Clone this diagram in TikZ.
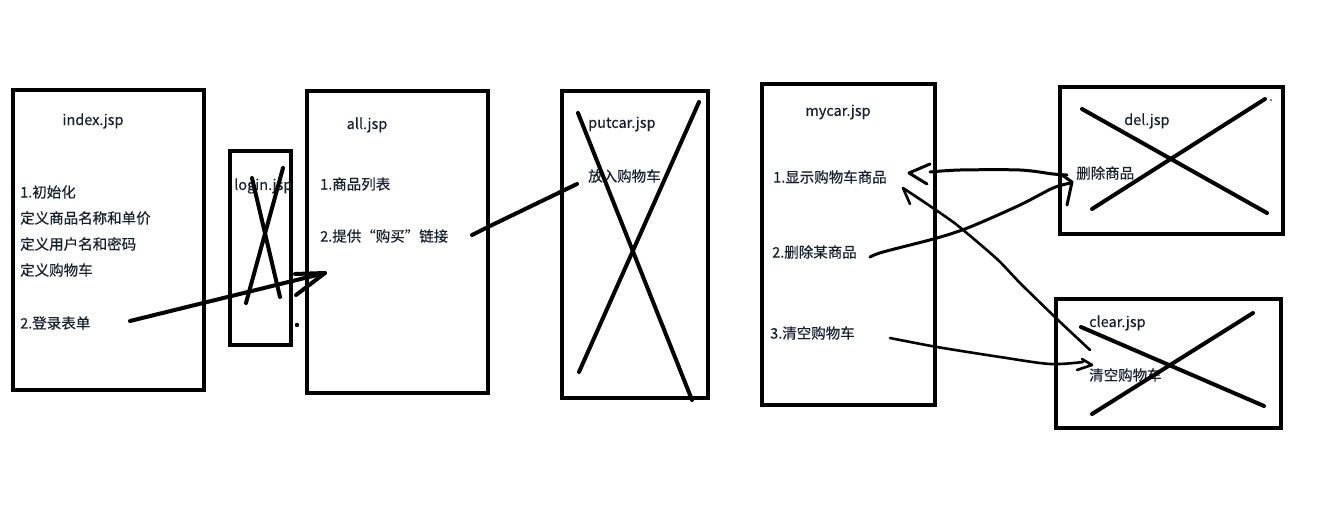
\documentclass[tikz,border=0pt]{standalone}
\usepackage{fontspec}
\setmainfont{Noto Sans CJK SC}[FakeBold=0.35]
\begin{document}
\begin{tikzpicture}[x=1pt,y=-1pt,
  box/.style={draw=black,line width=4pt,inner sep=0pt},
  cross/.style={line width=4pt,line cap=round},
  pen/.style={line width=3pt,line cap=round,line join=round},
  thin/.style={line width=2.6pt,line cap=round,line join=round},
  lbl/.style={anchor=west,inner sep=0pt,text=txt,font=\fontsize{14.5}{16}\selectfont},
  ttl/.style={anchor=center,inner sep=0pt,text=txt,font=\fontsize{14.5}{16}\selectfont}]
\definecolor{txt}{HTML}{15202E}
\useasboundingbox[fill=white] (0,0) rectangle (1339,527);
% boxes
\node[box,minimum width=191pt,minimum height=300pt] (index) at (108.5,240) {};
\node[box,minimum width=61pt,minimum height=194pt] (login) at (260.5,248) {};
\node[box,minimum width=181pt,minimum height=302pt] (all) at (397.5,242) {};
\node[box,minimum width=146pt,minimum height=307pt] (putcar) at (635,244.5) {};
\node[box,minimum width=173pt,minimum height=321pt] (mycar) at (848.5,244.5) {};
\node[box,minimum width=223pt,minimum height=147pt] (del) at (1171.5,160.5) {};
\node[box,minimum width=225pt,minimum height=129pt] (clear) at (1168.5,363.5) {};
% texts
\node[ttl] (tIndex) at (93,121) {index.jsp};
\node[lbl] (i1) at (20,192) {1.初始化};
\node[lbl] (i2) at (20,218) {定义商品名称和单价};
\node[lbl] (i3) at (20,244) {定义用户名和密码};
\node[lbl] (i4) at (20,270) {定义购物车};
\node[lbl] (i5) at (20,323) {2.登录表单};
\node[lbl] (tLogin) at (234,186) {login.jsp};
\node[ttl] (tAll) at (367,125) {all.jsp};
\node[lbl] (a1) at (320,184) {1.商品列表};
\node[lbl] (a2) at (320,236) {2.提供“购买”链接};
\node[lbl] (tPut) at (588,124) {putcar.jsp};
\node[lbl] (p1) at (588,176) {放入购物车};
\node[ttl] (tMy) at (838,112) {mycar.jsp};
\node[lbl] (m1) at (773,177) {1.显示购物车商品};
\node[lbl] (m2) at (772,252) {2.删除某商品};
\node[lbl] (m3) at (770,333) {3.清空购物车};
\node[lbl] (tDel) at (1124,121) {del.jsp};
\node[lbl] (d1) at (1076,173) {删除商品};
\node[lbl] (tClr) at (1089,323) {clear.jsp};
\node[lbl] (c1) at (1089,375) {清空购物车};
% crosses
\draw[cross] (252,178) -- (280,297);
\draw[cross] (283,168) -- (246,303);
\draw[cross] (578,113) -- (692,400);
\draw[cross] (699,102) -- (579,372);
\draw[cross] (1082,109) -- (1267,213);
\draw[cross] (1265,99) -- (1092,209);
\fill (1271,100) circle (0.8pt);
\draw[cross] (1081,327) -- (1264,406);
\draw[cross] (1253,313) -- (1092,414);
% index -> all
\coordinate (s1) at (130,321);
\coordinate (e1) at (325,273);
\draw[line width=4pt,line cap=round,line join=round] (s1) -- (e1);
\draw[line width=4pt,line cap=round,line join=round] (295,274) -- (e1) -- (296,295);
\fill (297,325) circle (2.2pt);
% all -> putcar
\coordinate (s2) at (472,235);
\coordinate (e2) at (577,184);
\draw[line width=4pt,line cap=round,line join=round] (s2) -- (490,226) -- (e2);
% del -> mycar 1
\coordinate (s3) at (1067,175);
\coordinate (e3) at (930,172);
\draw[pen] plot[smooth,tension=0.5] coordinates {(s3) (1053,174) (1020,170) (960,170) (e3)};
\draw[pen] (930,164) -- (909,173) -- (927,184);
% mycar 2 -> del
\coordinate (s4) at (870,257);
\coordinate (e4) at (1071,183);
\draw[pen] plot[smooth,tension=0.5] coordinates {(s4) (883,252) (937,238) (970,227) (1020,205) (1053,188) (e4)};
\draw[pen] (1062,175) -- (1072,182) -- (1067,205);
% clear -> mycar 1
\coordinate (s5) at (1090,350);
\coordinate (e5) at (903,188);
\draw[thin] plot[smooth,tension=0.4] coordinates {(s5) (1058,320) (1020,283) (997,259) (957,225) (927,204) (e5)};
\draw[thin] (e5) -- (910,204);
% mycar 3 -> clear
\coordinate (s6) at (890,338);
\coordinate (e6) at (1092,365);
\draw[thin] plot[smooth,tension=0.5] coordinates {(s6) (937,347) (1000,357) (1050,364) (1083,362)};
\draw[thin] (1082,359) -- (e6) -- (1077,370);
\end{tikzpicture}
\end{document}
